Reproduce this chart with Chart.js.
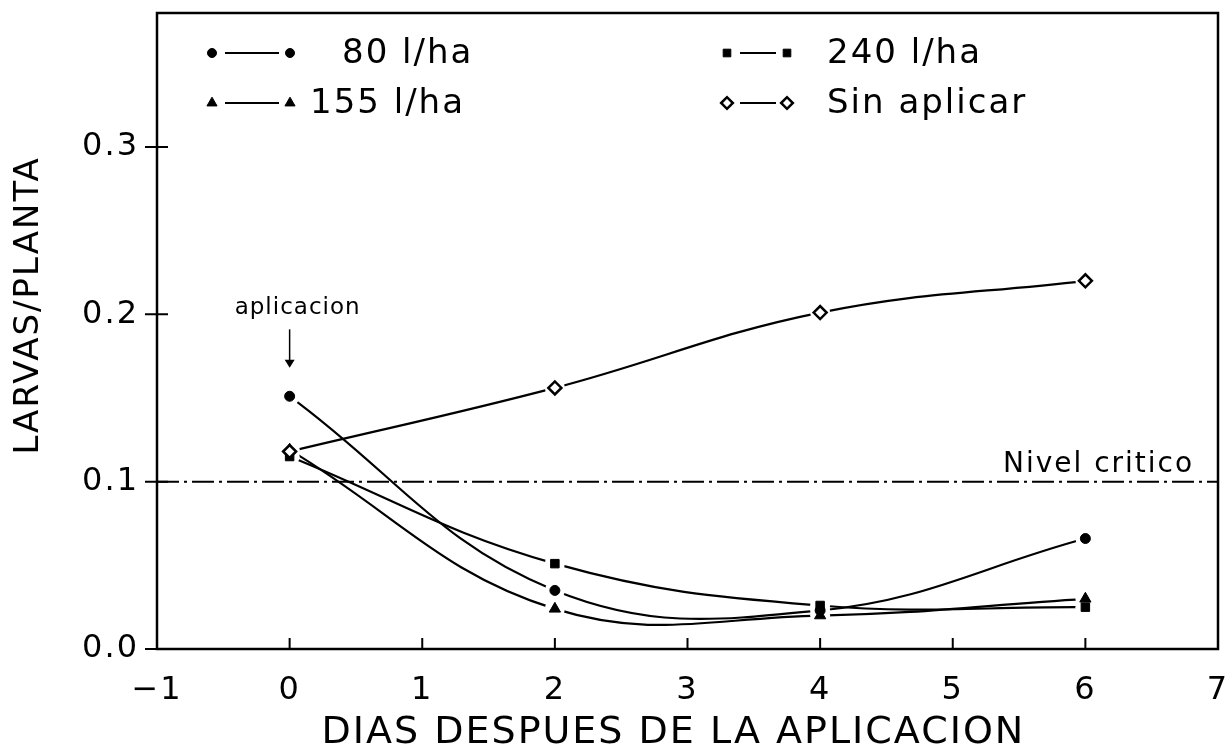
<!DOCTYPE html>
<html>
<head>
<meta charset="utf-8">
<script src="https://cdn.jsdelivr.net/npm/chart.js@4.4.1/dist/chart.umd.min.js"></script>
<style>
    body { margin: 0; background: #fff; }
</style>
</head>
<body>
<canvas id="grafico" width="1231" height="754"></canvas>
<script>
// datos
let dias = [0, 2, 4, 6];
let dosis80 = [0.151, 0.035, 0.023, 0.066];
let dosis155 = [0.119, 0.024, 0.020, 0.030];
let dosis240 = [0.115, 0.051, 0.026, 0.025];
let sinAplicar = [0.118, 0.156, 0.201, 0.220];
let nivelCritico = 0.1;
let ticksX = [-1, 0, 1, 2, 3, 4, 5, 6, 7];
let ticksY = [0, 0.1, 0.2, 0.3];
let nombres = ["80 l/ha", "155 l/ha", "240 l/ha", "Sin aplicar"];

const fuente = "'DejaVu Sans', sans-serif";

function puntos(valores) {
    return dias.map(function (d, i) { return { x: d, y: valores[i] }; });
}

function serie(nombre, valores, estilo, radio, relleno) {
    return {
        label: nombre,
        data: puntos(valores),
        borderColor: "#000",
        borderWidth: 2.2,
        tension: 0.4,
        pointStyle: estilo,
        pointRadius: radio,
        pointBackgroundColor: relleno,
        pointBorderColor: "#000",
        pointBorderWidth: estilo == "rectRot" ? 2.5 : 1
    };
}

let datasets = [
    serie(nombres[0], dosis80, "circle", 5, "#000"),
    serie(nombres[1], dosis155, "triangle", 6.5, "#000"),
    serie(nombres[2], dosis240, "rect", 6, "#000"),
    serie(nombres[3], sinAplicar, "rectRot", 6.5, "#fff"),
    {
        label: "Nivel critico",
        data: [{ x: ticksX[0], y: nivelCritico }, { x: ticksX[ticksX.length - 1], y: nivelCritico }],
        borderColor: "#000",
        borderWidth: 2,
        borderDash: [22, 5, 3, 5],
        pointRadius: 0,
        tension: 0
    }
];

function espaciado(chart) {
    chart.ctx.letterSpacing = "2px";
}

// marco, marcas de ejes, hueco blanco alrededor de los puntos, leyenda y textos
let extras = {
    id: "extras",
    beforeLayout: espaciado,
    beforeDraw: espaciado,
    afterDatasetsDraw: function (chart) {
        let ctx = chart.ctx;
        ctx.save();
        ctx.fillStyle = "#fff";
        for (let i = 0; i < 4; i++) {
            chart.getDatasetMeta(i).data.forEach(function (p) {
                ctx.beginPath();
                ctx.arc(p.x, p.y, 10, 0, 2 * Math.PI);
                ctx.fill();
            });
        }
        for (let i = 0; i < 4; i++) {
            chart.getDatasetMeta(i).data.forEach(function (p) {
                p.draw(ctx, chart.chartArea);
            });
        }
        ctx.restore();
    },
    afterDraw: function (chart) {
        let ctx = chart.ctx;
        let area = chart.chartArea;
        let sx = chart.scales.x;
        let sy = chart.scales.y;

        ctx.save();
        ctx.strokeStyle = "#000";
        ctx.lineWidth = 2.5;
        ctx.strokeRect(area.left, area.top, area.right - area.left, area.bottom - area.top);

        ctx.lineWidth = 2;
        ctx.beginPath();
        ticksY.forEach(function (v) {
            let y = sy.getPixelForValue(v);
            ctx.moveTo(area.left - 12, y);
            ctx.lineTo(area.left + 11, y);
        });
        ticksX.slice(1, -1).forEach(function (v) {
            let x = sx.getPixelForValue(v);
            ctx.moveTo(x, area.bottom);
            ctx.lineTo(x, area.bottom - 11);
        });
        ctx.stroke();

        // leyenda
        let filas = [53, 103];
        let columnas = [
            { m1: 212, m2: 290, texto: [342, 310] },
            { m1: 727, m2: 787, texto: [827, 827] }
        ];
        ctx.font = "34px " + fuente;
        ctx.textBaseline = "middle";
        ctx.textAlign = "left";
        let orden = [[0, 0, 0], [1, 0, 1], [2, 1, 0], [3, 1, 1]];
        orden.forEach(function (o) {
            let ds = chart.data.datasets[o[0]];
            let col = columnas[o[1]];
            let y = filas[o[2]];
            let opciones = { pointStyle: ds.pointStyle, radius: ds.pointRadius * 0.9, borderWidth: ds.pointBorderWidth, rotation: 0 };
            [col.m1, col.m2].forEach(function (x) {
                ctx.fillStyle = ds.pointBackgroundColor;
                ctx.strokeStyle = "#000";
                ctx.lineWidth = ds.pointBorderWidth;
                Chart.helpers.drawPoint(ctx, opciones, x, y);
            });
            ctx.lineWidth = 2;
            ctx.beginPath();
            ctx.moveTo(col.m1 + 13, y);
            ctx.lineTo(col.m2 - 11, y);
            ctx.stroke();
            ctx.fillStyle = "#000";
            ctx.fillText(ds.label, col.texto[o[2]], y + 1);
        });

        // nivel critico
        ctx.font = "28px " + fuente;
        ctx.textAlign = "right";
        ctx.textBaseline = "alphabetic";
        ctx.fillText("Nivel critico", sx.getPixelForValue(6.82), sy.getPixelForValue(nivelCritico) - 10);

        // aplicacion
        let x0 = sx.getPixelForValue(0);
        ctx.font = "23px " + fuente;
        ctx.letterSpacing = "1px";
        ctx.textAlign = "center";
        ctx.fillText("aplicacion", x0 + 8, sy.getPixelForValue(0.2));
        let yA = sy.getPixelForValue(0.191);
        let yB = sy.getPixelForValue(0.168);
        ctx.lineWidth = 1.5;
        ctx.beginPath();
        ctx.moveTo(x0, yA);
        ctx.lineTo(x0, yB - 7);
        ctx.stroke();
        ctx.beginPath();
        ctx.moveTo(x0 - 5, yB - 8);
        ctx.lineTo(x0 + 5, yB - 8);
        ctx.lineTo(x0, yB);
        ctx.closePath();
        ctx.fill();
        ctx.restore();
    }
};

new Chart(document.getElementById("grafico").getContext("2d"), {
    type: "line",
    data: { datasets: datasets },
    options: {
        responsive: false,
        animation: false,
        events: [],
        layout: { padding: { top: 13, right: 13, left: 0, bottom: 0 } },
        plugins: {
            legend: { display: false },
            tooltip: { enabled: false }
        },
        scales: {
            x: {
                type: "linear",
                min: ticksX[0],
                max: ticksX[ticksX.length - 1],
                afterFit: function (s) {
                    s.height = 105;
                    s.paddingLeft = 0;
                    s.paddingRight = 0;
                },
                afterBuildTicks: function (s) { s.ticks = ticksX.map(function (v) { return { value: v }; }); },
                grid: { display: false, drawTicks: false },
                border: { display: false },
                ticks: {
                    padding: 22,
                    color: "#000",
                    font: { family: fuente, size: 32 },
                    callback: function (v) { return v < 0 ? "\u2212" + Math.abs(v) : String(v); }
                },
                title: {
                    display: true,
                    text: "DIAS DESPUES DE LA APLICACION  ",
                    color: "#000",
                    padding: 0,
                    font: { family: fuente, size: 38, lineHeight: 1.1 }
                }
            },
            y: {
                min: 0,
                max: 0.38,
                afterFit: function (s) {
                    s.width = 157;
                    s.paddingTop = 0;
                    s.paddingBottom = 0;
                },
                afterBuildTicks: function (s) { s.ticks = ticksY.map(function (v) { return { value: v }; }); },
                grid: { display: false, drawTicks: false },
                border: { display: false },
                ticks: {
                    padding: 18,
                    color: "#000",
                    font: { family: fuente, size: 32 },
                    callback: function (v) { return v.toFixed(1); }
                },
                title: {
                    display: true,
                    text: "    LARVAS/PLANTA",
                    color: "#000",
                    padding: { top: 9, bottom: 0 },
                    font: { family: fuente, size: 34, lineHeight: 1.2 }
                }
            }
        }
    },
    plugins: [extras]
});
</script>
</body>
</html>
